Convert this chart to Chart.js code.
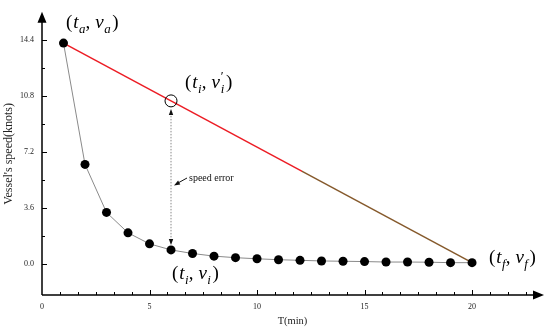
<!DOCTYPE html>
<html lang="en">
<head>
<meta charset="UTF-8">
<title>Vessel speed</title>
<script src="https://cdn.jsdelivr.net/npm/chart.js@4"></script>
<style>
  html, body { margin: 0; padding: 0; background: #fff; }
  canvas { display: block; }
</style>
</head>
<body>
<canvas id="chart" width="550" height="336"></canvas>
<script>
// data
const times = [1, 2, 3, 4, 5, 6, 7, 8, 9, 10, 11, 12, 13, 14, 15, 16, 17, 18, 19, 20];
const speeds = [14.2, 6.4, 3.31, 2.0, 1.29, 0.9, 0.67, 0.5, 0.4, 0.33, 0.27, 0.23, 0.19, 0.17, 0.15, 0.12, 0.12, 0.11, 0.08, 0.08];
const xTickLabels = [0, 5, 10, 15, 20];
const yTickLabels = [0.0, 3.6, 7.2, 10.8, 14.4];
const sampleIdx = 5; // the (t_i, v_i) point

const RED = '#ec1c24';
const BROWN = '#85592b';
const SERIF = '"Liberation Serif", "DejaVu Serif", serif';

const tA = times[0], vA = speeds[0];
const tF = times[times.length - 1], vF = speeds[speeds.length - 1];
// speed on the straight line at t_i
const tI = times[sampleIdx];
const vIprime = vA + (vF - vA) * (tI - tA) / (tF - tA);

function arrowHead(ctx, x, y, angle, len, half) {
  ctx.save();
  ctx.translate(x, y);
  ctx.rotate(angle);
  ctx.beginPath();
  ctx.moveTo(0, 0);
  ctx.lineTo(-len, -half);
  ctx.lineTo(-len, half);
  ctx.closePath();
  ctx.fill();
  ctx.restore();
}

// draws things like (t_a, v_a) with italic letters and subscripts
function mathLabel(ctx, x, y, parts, size) {
  let cx = x;
  parts.forEach(p => {
    const s = p.sub || p.sup ? size * 0.68 : size;
    ctx.font = (p.it ? 'italic ' : '') + s + 'px ' + SERIF;
    let dy = 0;
    if (p.sub) dy = size * 0.24;
    if (p.sup) dy = -size * 0.4;
    cx += p.dx || 0;
    ctx.fillText(p.t, cx, y + dy);
    if (!p.keep) cx += ctx.measureText(p.t).width + (p.after || 0);
  });
}

function point(idx, prime) {
  const parts = [
    { t: '(', after: 1 }, { t: 't', it: true, after: 0.5 }, { t: idx, it: true, sub: true },
    { t: ',', after: 5 }, { t: 'v', it: true, after: 0.5 }
  ];
  if (prime) parts.push({ t: '\u2032', sup: true, keep: true, dx: 0.5 });
  parts.push({ t: idx, it: true, sub: true, after: 1.5 }, { t: ')' });
  return parts;
}

const decorations = {
  id: 'decorations',
  afterDraw(chart) {
    const { ctx, scales: { x, y } } = chart;
    const ox = x.getPixelForValue(0);
    const oy = y.getPixelForValue(y.min);
    const topY = chart.chartArea.top;
    const rightX = chart.chartArea.right;

    ctx.save();
    ctx.strokeStyle = '#000';
    ctx.fillStyle = '#000';
    ctx.lineWidth = 1.5;

    // axes
    ctx.beginPath();
    ctx.moveTo(ox, oy);
    ctx.lineTo(ox, topY + 6);
    ctx.moveTo(ox, oy);
    ctx.lineTo(rightX - 6, oy);
    ctx.stroke();
    arrowHead(ctx, ox, topY - 1, -Math.PI / 2, 11, 4.5);
    arrowHead(ctx, rightX + 1, oy, 0, 11, 4.5);

    // inward ticks
    ctx.lineWidth = 1;
    ctx.beginPath();
    for (let k = 1; k * 5 / 6 <= 22.6; k++) {
      const px = Math.round(x.getPixelForValue(k * 5 / 6)) + 0.5;
      const len = k % 6 === 0 ? 5 : 3;
      ctx.moveTo(px, oy);
      ctx.lineTo(px, oy - len);
    }
    for (let k = 0; k * 1.8 <= 14.5; k++) {
      const py = Math.round(y.getPixelForValue(k * 1.8)) + 0.5;
      const len = k % 2 === 0 ? 5 : 3;
      ctx.moveTo(ox, py);
      ctx.lineTo(ox + len, py);
    }
    ctx.stroke();

    // dotted double arrow for the speed error
    const ex = x.getPixelForValue(tI);
    const eTop = y.getPixelForValue(vIprime) + 8;
    const eBot = y.getPixelForValue(speeds[sampleIdx]) - 5;
    ctx.strokeStyle = '#888';
    ctx.setLineDash([1.5, 1.5]);
    ctx.beginPath();
    ctx.moveTo(ex, eTop + 4);
    ctx.lineTo(ex, eBot - 4);
    ctx.stroke();
    ctx.setLineDash([]);
    ctx.fillStyle = '#111';
    arrowHead(ctx, ex, eTop, -Math.PI / 2, 6, 2.2);
    arrowHead(ctx, ex, eBot, Math.PI / 2, 6, 2.2);

    // speed error label
    ctx.fillStyle = '#111';
    ctx.font = '10px ' + SERIF;
    ctx.textBaseline = 'alphabetic';
    ctx.fillText('speed error', 189, 181);
    ctx.strokeStyle = '#111';
    ctx.lineWidth = 1;
    ctx.beginPath();
    ctx.moveTo(187, 178);
    ctx.lineTo(178, 183);
    ctx.stroke();
    arrowHead(ctx, 174, 185.5, Math.atan2(7.5, -13), 6, 2.2);

    // point labels
    ctx.fillStyle = '#000';
    mathLabel(ctx, 66, 28, point('a'), 19);
    mathLabel(ctx, 185, 88, point('i', true), 19);
    mathLabel(ctx, 172, 279, point('i'), 19);
    mathLabel(ctx, 489, 263, point('f'), 19);
    ctx.restore();
  }
};

new Chart(document.getElementById('chart'), {
  type: 'scatter',
  data: {
    datasets: [
      {
        label: 'speed',
        data: times.map((t, i) => ({ x: t, y: speeds[i] })),
        showLine: true,
        borderColor: '#8a8a8a',
        borderWidth: 1,
        pointRadius: 4.5,
        pointBackgroundColor: '#000',
        pointBorderWidth: 0,
        order: 0
      },
      {
        label: 'straight',
        data: [{ x: tA, y: vA }, { x: tF, y: vF }],
        showLine: true,
        borderWidth: 1.5,
        pointRadius: 0,
        borderColor(c) {
          const area = c.chart.chartArea;
          if (!area) return RED;
          const g = c.chart.ctx.createLinearGradient(area.left, 0, area.right, 0);
          const p = (c.chart.scales.x.getPixelForValue(12.1) - area.left) / (area.right - area.left);
          g.addColorStop(0, RED);
          g.addColorStop(p, RED);
          g.addColorStop(p, BROWN);
          g.addColorStop(1, BROWN);
          return g;
        },
        order: 2
      },
      {
        label: 'estimate',
        data: [{ x: tI, y: vIprime }],
        pointRadius: 6,
        pointBackgroundColor: 'rgba(0,0,0,0)',
        pointBorderColor: '#000',
        pointBorderWidth: 1,
        order: 1
      }
    ]
  },
  options: {
    responsive: false,
    animation: false,
    devicePixelRatio: 1,
    layout: { padding: { left: 0, right: 2, top: 5, bottom: 0 } },
    plugins: { legend: { display: false }, tooltip: { enabled: false } },
    scales: {
      x: {
        type: 'linear',
        min: 0,
        max: 23.3,
        grid: { display: false, drawTicks: false },
        border: { display: false },
        afterBuildTicks: s => { s.ticks = xTickLabels.map(v => ({ value: v })); },
        afterFit: s => { s.height = 41; },
        ticks: {
          padding: 7,
          color: '#222',
          font: { family: SERIF, size: 8 },
          callback: v => String(v)
        },
        title: {
          display: true,
          text: 'T(min)',
          color: '#222',
          font: { family: SERIF, size: 10.5 },
          padding: { top: 0, bottom: 8 }
        }
      },
      y: {
        type: 'linear',
        min: -2.0,
        max: 16.15,
        grid: { display: false, drawTicks: false },
        border: { display: false },
        afterBuildTicks: s => { s.ticks = yTickLabels.map(v => ({ value: v })); },
        afterFit: s => { s.width = 42; },
        ticks: {
          padding: 8,
          color: '#222',
          font: { family: SERIF, size: 8 },
          callback: v => v.toFixed(1)
        },
        title: {
          display: true,
          text: "Vessel's speed(knots)",
          color: '#222',
          font: { family: SERIF, size: 12 },
          padding: { top: 2, bottom: 0 }
        }
      }
    }
  },
  plugins: [decorations]
});
</script>
</body>
</html>
